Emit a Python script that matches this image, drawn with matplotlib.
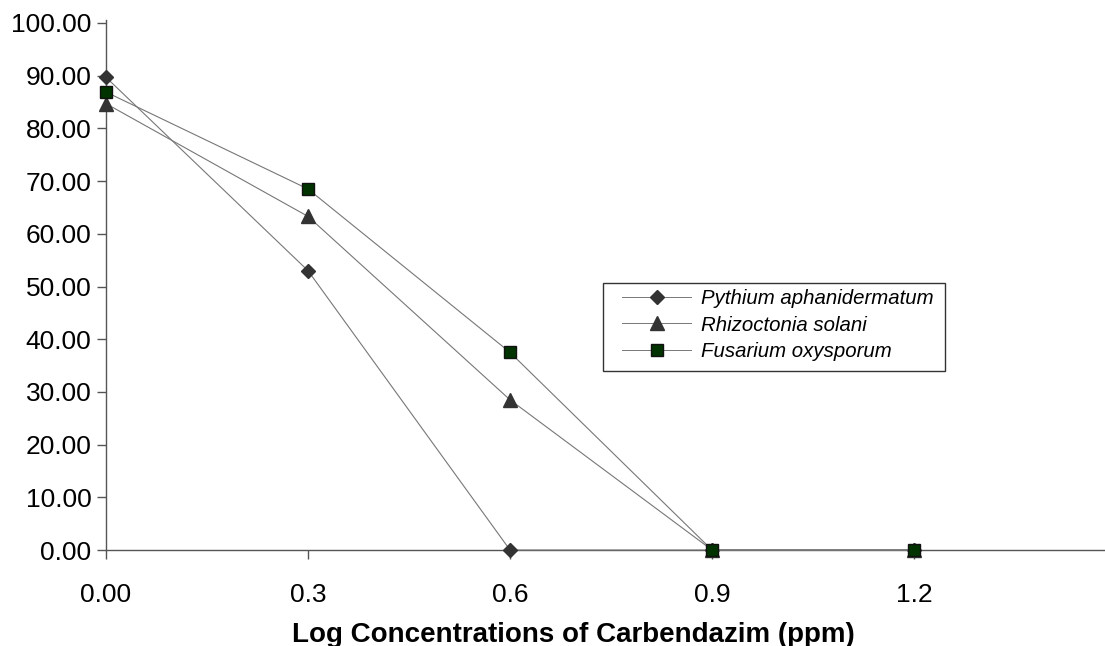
import matplotlib.pyplot as plt
from matplotlib.patches import Rectangle

# data
log_conc = [0.0, 0.3, 0.6, 0.9, 1.2]
pythium = [89.7, 53.0, 0.0, 0.0, 0.0]
rhizoctonia = [84.7, 63.3, 28.5, 0.0, 0.0]
fusarium = [86.9, 68.5, 37.5, 0.0, 0.0]

x_ticks = [0.0, 0.3, 0.6, 0.9, 1.2]
x_labels = ["0.00", "0.3", "0.6", "0.9", "1.2"]
y_ticks = list(range(0, 101, 10))

plt.rcParams['font.family'] = ['Liberation Sans', 'DejaVu Sans']

W, H = 1105, 646
fig = plt.figure(figsize=(W / 100, H / 100), dpi=100)
ax = fig.add_axes([106 / W, 96 / H, 999 / W, 527 / H])

line_kw = dict(color='#777777', linewidth=0.8, clip_on=False, zorder=3)
ax.plot(log_conc, pythium, marker='D', markersize=7, markerfacecolor='#333333',
        markeredgecolor='#333333', label='Pythium aphanidermatum', **line_kw)
ax.plot(log_conc, rhizoctonia, marker='^', markersize=10, markerfacecolor='#333333',
        markeredgecolor='#333333', label='Rhizoctonia solani', **line_kw)
ax.plot(log_conc, fusarium, marker='s', markersize=8, markerfacecolor='#003300',
        markeredgecolor='#111111', label='Fusarium oxysporum', **line_kw)

ax.set_xlim(0, 999 / (202 / 0.3))
ax.set_ylim(0, 100)
ax.set_xticks(x_ticks)
ax.set_xticklabels(x_labels)
ax.set_yticks(y_ticks)
ax.set_yticklabels([f"{v:.2f}" for v in y_ticks])

for s in ['top', 'right']:
    ax.spines[s].set_visible(False)
for s in ['left', 'bottom']:
    ax.spines[s].set_color('#555555')
    ax.spines[s].set_linewidth(1.0)
ax.spines['left'].set_bounds(0, 100.5)

ax.tick_params(axis='y', direction='out', length=6.5, width=1, color='#555555',
               labelsize=19, pad=4)
ax.tick_params(axis='x', direction='out', length=6.5, width=1, color='#555555',
               labelsize=19, pad=17.5)

fig.text(573 / W, 1 - 642 / H, 'Log Concentrations of Carbendazim (ppm)',
         ha='center', va='baseline', fontsize=20, fontweight='bold')

# legend without its own frame, box drawn separately
leg = fig.legend(*ax.get_legend_handles_labels(), loc='upper left',
                 bbox_to_anchor=(622 / W, 1 - 289 / H),
                 prop={'style': 'italic', 'size': 14.7}, frameon=False,
                 handlelength=3.4, borderpad=0, labelspacing=0.37, handletextpad=0.45,
                 borderaxespad=0)
for h in leg.legend_handles:
    h.set_linewidth(0.7)
fig.patches.append(Rectangle((603 / W, 1 - 371 / H), (945 - 603) / W, (371 - 283) / H,
                             transform=fig.transFigure, fill=False,
                             edgecolor='#333333', linewidth=1.0))

fig.savefig('out.png', dpi=100)
